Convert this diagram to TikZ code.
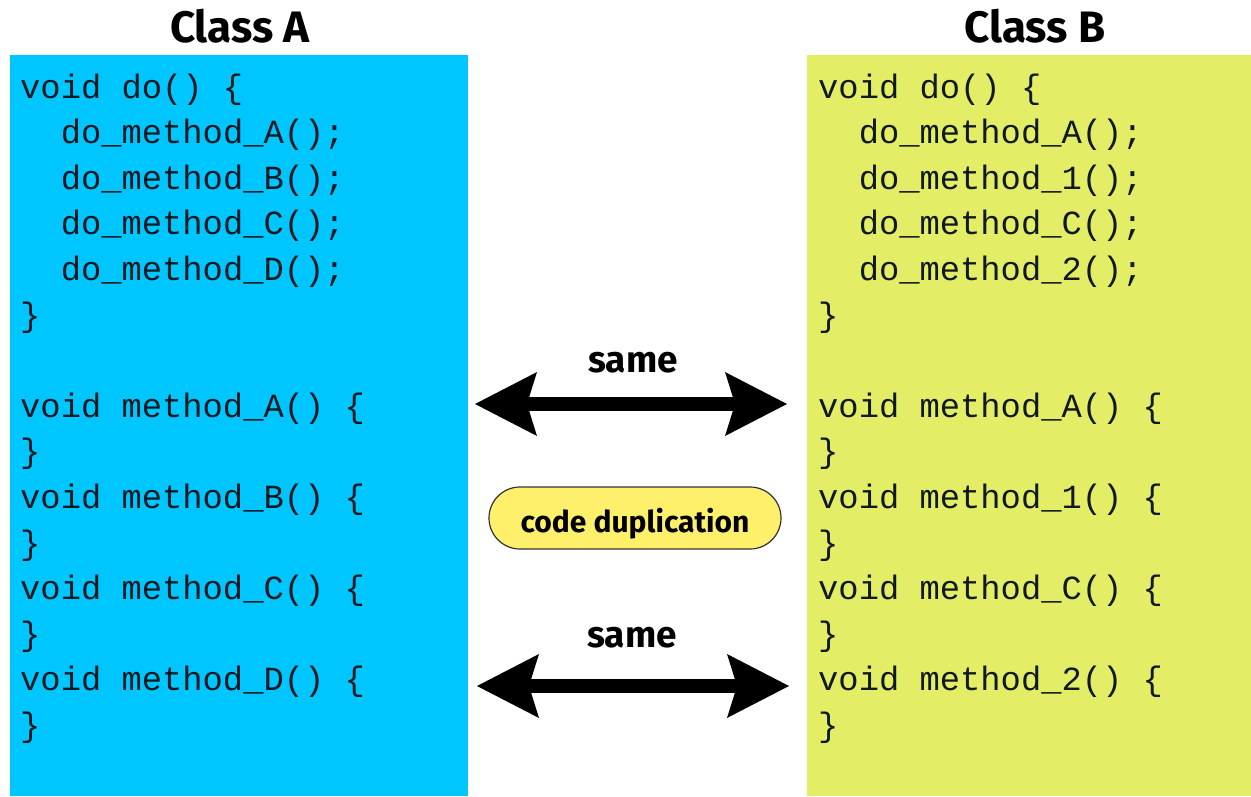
\documentclass[tikz,border=0pt]{standalone}
\usepackage{fontspec}
\setmainfont{Fira Sans}
\setmonofont{Liberation Mono}
\usetikzlibrary{arrows.meta}

\definecolor{panelblue}{HTML}{00C6FF}
\definecolor{panelyellow}{HTML}{E3EE66}
\definecolor{pillyellow}{HTML}{FFF06C}
\definecolor{codeink}{HTML}{101820}

\newcommand{\ind}{\phantom{xx}}

\tikzset{
  title/.style={font=\fontsize{44}{52}\selectfont\bfseries, text=black, inner sep=0pt, anchor=base},
  codeline/.style={font=\ttfamily\fontsize{33.8}{40}\selectfont, text=codeink, inner sep=0pt, anchor=base west},
  samelabel/.style={font=\fontsize{37}{44}\selectfont\bfseries, text=black, inner sep=0pt, anchor=base},
  bigarrow/.style={line width=14pt, black,
    {Stealth[length=62pt, width=64pt, inset=10pt, line width=0pt]}-{Stealth[length=62pt, width=64pt, inset=10pt, line width=0pt]}},
  pill/.style={draw=black!80, line width=1.2pt, fill=pillyellow, rounded corners=31pt,
    minimum width=292pt, minimum height=62pt, inner sep=0pt,
    text height=29pt, text depth=0pt,
    font=\fontsize{30}{36}\selectfont\bfseries, text=black},
}

\begin{document}
\begin{tikzpicture}[x=1pt, y=-1pt]
  \useasboundingbox (0,0) rectangle (1251,796);

  % the two class panels
  \fill[panelblue] (10,55) rectangle (468,796);
  \fill[panelyellow] (807,55) rectangle (1251,796);

  % headings
  \node[title] (titleA) at (240,42) {Class A};
  \node[title] (titleB) at (1035,42) {Class B};

  % source of class A
  \foreach \k/\t in {0/{void do() \{}, 1/{\ind do\_method\_A();}, 2/{\ind do\_method\_B();},
      3/{\ind do\_method\_C();}, 4/{\ind do\_method\_D();}, 5/{\}},
      7/{void method\_A() \{}, 8/{\}}, 9/{void method\_B() \{}, 10/{\}},
      11/{void method\_C() \{}, 12/{\}}, 13/{void method\_D() \{}, 14/{\}}}
    \node[codeline] (a\k) at (20, 98+45.6*\k) {\t};

  % source of class B
  \foreach \k/\t in {0/{void do() \{}, 1/{\ind do\_method\_A();}, 2/{\ind do\_method\_1();},
      3/{\ind do\_method\_C();}, 4/{\ind do\_method\_2();}, 5/{\}},
      7/{void method\_A() \{}, 8/{\}}, 9/{void method\_1() \{}, 10/{\}},
      11/{void method\_C() \{}, 12/{\}}, 13/{void method\_2() \{}, 14/{\}}}
    \node[codeline] (b\k) at (818, 98+45.6*\k) {\t};

  % upper double arrow
  \coordinate (upL) at (475,404);
  \coordinate (upR) at (787,404);
  \node[samelabel] (same1) at (633,372) {same};
  \draw[bigarrow] (upL) -- (upR);

  % middle label
  \node[pill] (dup) at (635,518) {code duplication};

  % lower double arrow
  \coordinate (loL) at (477,686);
  \coordinate (loR) at (789,686);
  \node[samelabel] (same2) at (632,647) {same};
  \draw[bigarrow] (loL) -- (loR);
\end{tikzpicture}
\end{document}
